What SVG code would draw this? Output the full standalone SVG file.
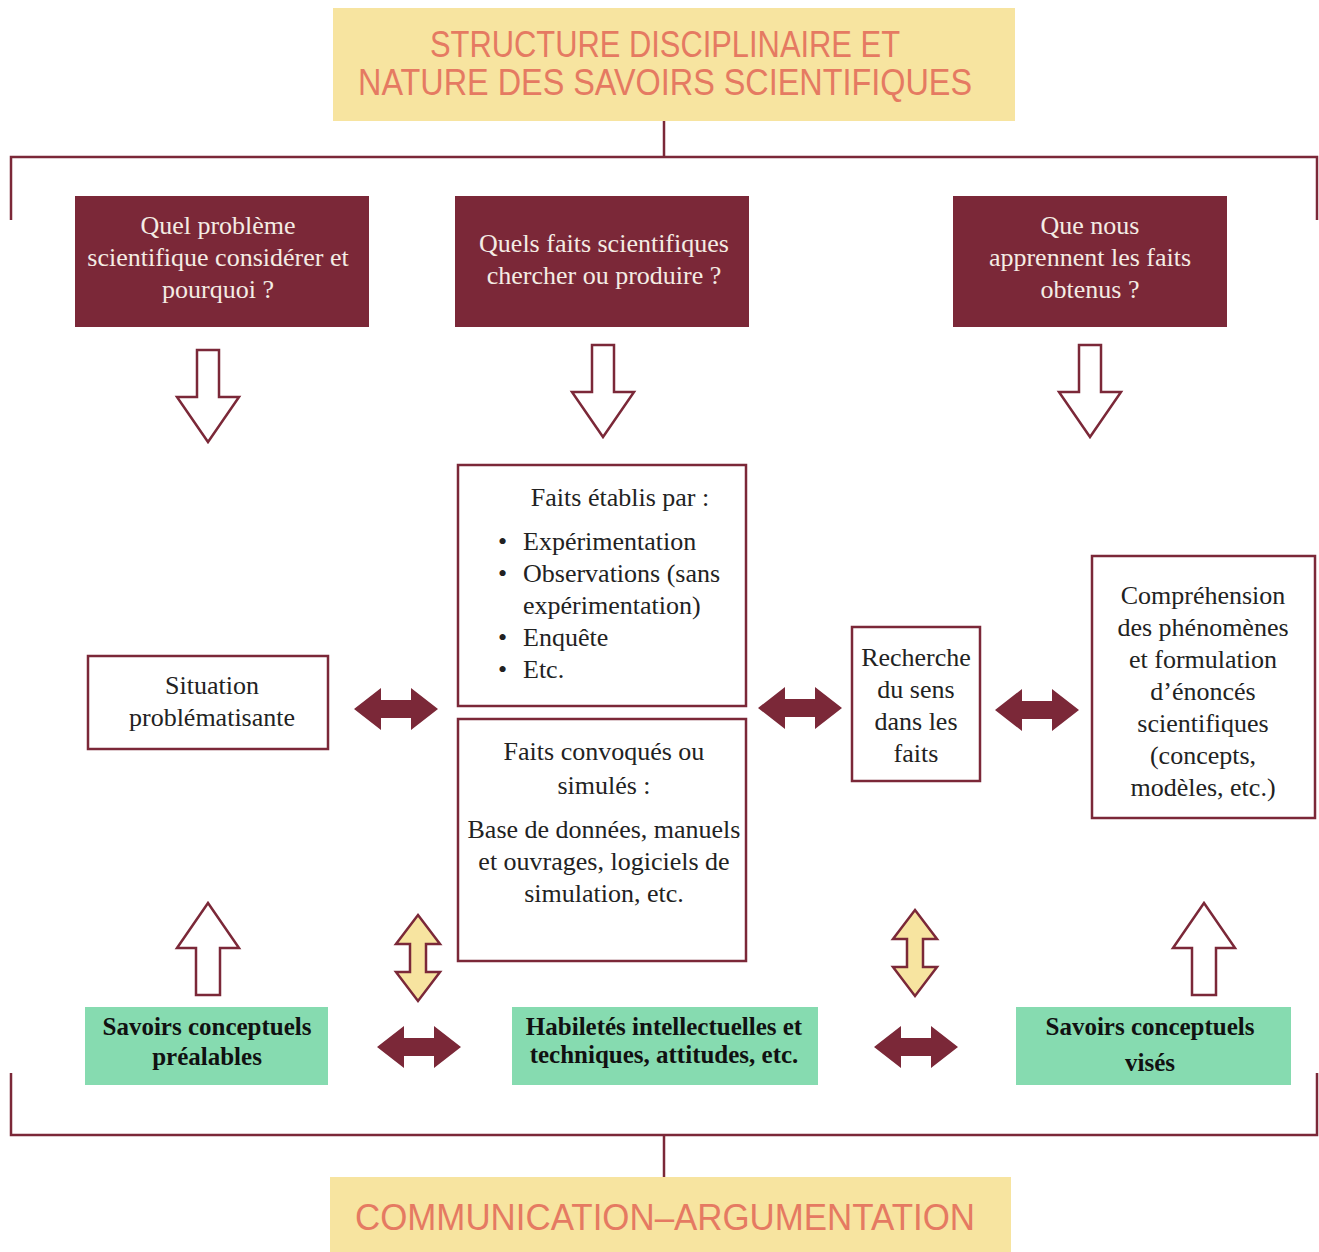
<svg xmlns="http://www.w3.org/2000/svg" width="1319" height="1252" viewBox="0 0 1319 1252">
<style>
.title{font-family:"Liberation Sans",Arial,sans-serif;font-size:36px;fill:#e57a62;text-anchor:middle}
.dark{fill:#7b2838}
.qt{font-family:"Liberation Serif","Times New Roman",serif;font-size:26px;fill:#f4ece4;text-anchor:middle}
.wbox{fill:#ffffff;stroke:#7b2838;stroke-width:2.5}
.bt{font-family:"Liberation Serif","Times New Roman",serif;font-size:26px;fill:#222222;text-anchor:middle}
.bl{font-family:"Liberation Serif","Times New Roman",serif;font-size:26px;fill:#222222}
.green{fill:#86dbb0}
.gt{font-family:"Liberation Serif","Times New Roman",serif;font-size:25px;font-weight:bold;fill:#111111;text-anchor:middle}
.yel{fill:#f7e4a0}
.line{fill:none;stroke:#7b2838;stroke-width:2.5}
.hollow{fill:#ffffff;stroke:#7b2838;stroke-width:2.5;stroke-linejoin:miter}
.ydbl{fill:#f7e4a0;stroke:#7b2838;stroke-width:2.5}
</style>
<defs>
<path id="dblh" d="M-42,0 L-15,-21 L-15,-9 L15,-9 L15,-21 L42,0 L15,21 L15,9 L-15,9 L-15,21 Z"/>
<path id="down" d="M-11,0 L11,0 L11,47 L31,47 L0,92 L-31,47 L-11,47 Z"/>
<path id="up" d="M0,0 L31,45 L12,45 L12,92 L-12,92 L-12,45 L-31,45 Z"/>
<path id="dblv" d="M0,-43 L22,-14 L8,-14 L8,14 L22,14 L0,43 L-22,14 L-8,14 L-8,-14 L-22,-14 Z"/>
</defs>

<g id="connectors">
<path class="line" d="M664,121 L664,157 M11,220 L11,157 L1317,157 L1317,220"/>
<path class="line" d="M11,1073 L11,1135 L1317,1135 L1317,1073 M664,1135 L664,1177"/>
<use href="#down" class="hollow" x="208" y="350"/>
<use href="#down" class="hollow" x="603" y="345"/>
<use href="#down" class="hollow" x="1090" y="345"/>
<use href="#up" class="hollow" x="208" y="903"/>
<use href="#up" class="hollow" x="1204" y="903"/>
<use href="#dblh" class="dark" x="396" y="709"/>
<use href="#dblh" class="dark" x="800" y="708"/>
<use href="#dblh" class="dark" x="1037" y="710"/>
<use href="#dblh" class="dark" x="419" y="1047"/>
<use href="#dblh" class="dark" x="916" y="1047"/>
<use href="#dblv" class="ydbl" x="418" y="958"/>
<use href="#dblv" class="ydbl" x="915" y="953"/>
</g>

<g id="title-top">
<rect class="yel" x="333" y="8" width="682" height="113"/>
<text class="title" x="665" y="57" textLength="470" lengthAdjust="spacingAndGlyphs">STRUCTURE DISCIPLINAIRE ET</text>
<text class="title" x="665" y="95" textLength="614" lengthAdjust="spacingAndGlyphs">NATURE DES SAVOIRS SCIENTIFIQUES</text>
</g>

<g id="q1">
<rect class="dark" x="75" y="196" width="294" height="131"/>
<text class="qt" x="218" y="234">Quel problème</text>
<text class="qt" x="218" y="266">scientifique considérer et</text>
<text class="qt" x="218" y="298">pourquoi ?</text>
</g>
<g id="q2">
<rect class="dark" x="455" y="196" width="294" height="131"/>
<text class="qt" x="604" y="252">Quels faits scientifiques</text>
<text class="qt" x="604" y="284">chercher ou produire ?</text>
</g>
<g id="q3">
<rect class="dark" x="953" y="196" width="274" height="131"/>
<text class="qt" x="1090" y="234">Que nous</text>
<text class="qt" x="1090" y="266">apprennent les faits</text>
<text class="qt" x="1090" y="298">obtenus ?</text>
</g>

<g id="situation">
<rect class="wbox" x="88" y="656" width="240" height="93"/>
<text class="bt" x="212" y="694">Situation</text>
<text class="bt" x="212" y="726">problématisante</text>
</g>

<g id="faits-etablis">
<rect class="wbox" x="458" y="465" width="288" height="241"/>
<text class="bt" x="620" y="506">Faits établis par :</text>
<text class="bl" x="498" y="550">•</text><text class="bl" x="523" y="550">Expérimentation</text>
<text class="bl" x="498" y="582">•</text><text class="bl" x="523" y="582">Observations (sans</text>
<text class="bl" x="523" y="614">expérimentation)</text>
<text class="bl" x="498" y="646">•</text><text class="bl" x="523" y="646">Enquête</text>
<text class="bl" x="498" y="678">•</text><text class="bl" x="523" y="678">Etc.</text>
</g>

<g id="faits-convoques">
<rect class="wbox" x="458" y="719" width="288" height="242"/>
<text class="bt" x="604" y="760">Faits convoqués ou</text>
<text class="bt" x="604" y="794">simulés :</text>
<text class="bt" x="604" y="838">Base de données, manuels</text>
<text class="bt" x="604" y="870">et ouvrages, logiciels de</text>
<text class="bt" x="604" y="902">simulation, etc.</text>
</g>

<g id="recherche">
<rect class="wbox" x="852" y="627" width="128" height="154"/>
<text class="bt" x="916" y="666">Recherche</text>
<text class="bt" x="916" y="698">du sens</text>
<text class="bt" x="916" y="730">dans les</text>
<text class="bt" x="916" y="762">faits</text>
</g>

<g id="comprehension">
<rect class="wbox" x="1092" y="556" width="223" height="262"/>
<text class="bt" x="1203" y="604">Compréhension</text>
<text class="bt" x="1203" y="636">des phénomènes</text>
<text class="bt" x="1203" y="668">et formulation</text>
<text class="bt" x="1203" y="700">d’énoncés</text>
<text class="bt" x="1203" y="732">scientifiques</text>
<text class="bt" x="1203" y="764">(concepts,</text>
<text class="bt" x="1203" y="796">modèles, etc.)</text>
</g>

<g id="savoirs-prealables">
<rect class="green" x="85" y="1007" width="243" height="78"/>
<text class="gt" x="207" y="1035">Savoirs conceptuels</text>
<text class="gt" x="207" y="1065">préalables</text>
</g>
<g id="habiletes">
<rect class="green" x="512" y="1007" width="306" height="78"/>
<text class="gt" x="664" y="1035">Habiletés intellectuelles et</text>
<text class="gt" x="664" y="1063">techniques, attitudes, etc.</text>
</g>
<g id="savoirs-vises">
<rect class="green" x="1016" y="1007" width="275" height="78"/>
<text class="gt" x="1150" y="1035">Savoirs conceptuels</text>
<text class="gt" x="1150" y="1071">visés</text>
</g>

<g id="title-bottom">
<rect class="yel" x="330" y="1177" width="681" height="75"/>
<text class="title" x="665" y="1230" textLength="620" lengthAdjust="spacingAndGlyphs">COMMUNICATION–ARGUMENTATION</text>
</g>
</svg>
